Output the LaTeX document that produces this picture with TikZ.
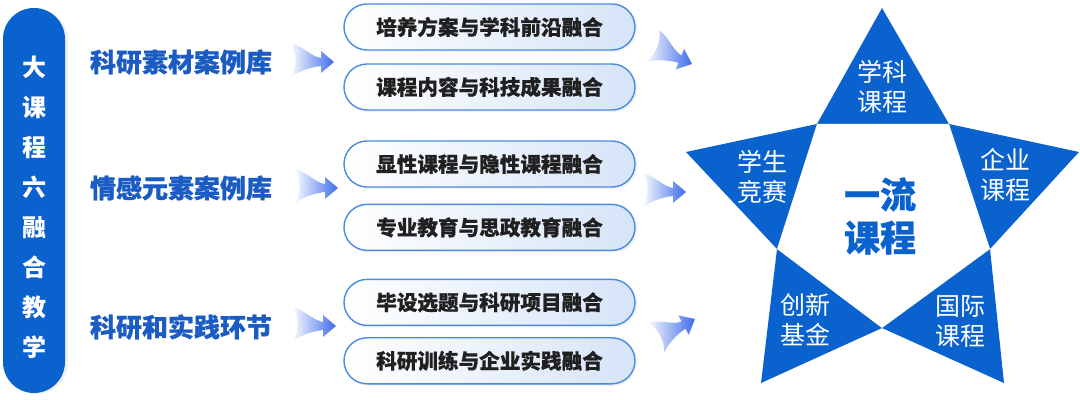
\documentclass[tikz,border=0pt]{standalone}
\usepackage{fontspec}
\setmainfont{Noto Sans CJK SC}
\newfontfamily\heavyfont{Noto Sans CJK SC}[BoldFeatures={FakeBold=0.7}]
\usetikzlibrary{positioning, calc, shadows}
\usepackage{xcolor}
\definecolor{barblue}{HTML}{0A62CF}
\definecolor{libblue}{HTML}{1A5BC4}
\definecolor{pillline}{HTML}{4A8BE0}
\definecolor{pillfill}{HTML}{D6E4F8}
\definecolor{pilltext}{HTML}{202020}
\definecolor{arrowblue}{HTML}{3D6BEA}
\tikzset{
    sidebar/.style = {rectangle, rounded corners=15.5pt, minimum width=31pt, minimum height=192.5pt, fill=barblue, drop shadow={opacity=0.12, shadow xshift=1.5pt, shadow yshift=-0.5pt}},
    bartext/.style = {align=center, text=white, font=\fontsize{12}{20}\selectfont\bfseries},
    libtext/.style = {text=libblue, font=\fontsize{13}{15}\selectfont\heavyfont\bfseries},
    pill/.style = {rectangle, rounded corners=11.5pt, minimum width=145.5pt, minimum height=23pt, draw=pillline, line width=0.7pt, left color=white, right color=pillfill, text=pilltext, font=\fontsize{10.3}{12}\selectfont\heavyfont\bfseries, drop shadow={opacity=0.1, shadow xshift=1pt, shadow yshift=-1pt}},
    starlabel/.style = {align=center, text=white, font=\fontsize{12.5}{15}\selectfont},
    corelabel/.style = {align=center, text=barblue, font=\fontsize{18}{21.5}\selectfont\heavyfont\bfseries},
    fadearrow/.pic = {
        \path[left color=arrowblue!4, right color=arrowblue] (-43,-19) .. controls (-33,-17) and (-22,-5) .. (-13,-4) -- (-13,-11) -- (0,0) -- (-13,11) -- (-13,4) .. controls (-22,5) and (-33,8) .. (-43,15) .. controls (-37,5) and (-37,-9) .. (-43,-19) -- cycle;
    }
}
\begin{document}
\begin{tikzpicture}[x=0.5pt, y=-0.5pt, node distance=6.3pt]
\useasboundingbox (0,0) rectangle (1080,400);
\node (bar) [sidebar] at (34,200.5) {};
\node (bartitle) [bartext] at (34,207.5) {大\\课\\程\\六\\融\\合\\教\\学};

\node (lib1) [libtext] at (181,62) {科研素材案例库};
\node (lib2) [libtext] at (181,188) {情感元素案例库};
\node (lib3) [libtext] at (181,327) {科研和实践环节};

\node (pill1) [pill] at (489.5,27) {培养方案与学科前沿融合};
\node (pill2) [pill, below=of pill1] {课程内容与科技成果融合};
\node (pill3) [pill, below=14.8pt of pill2] {显性课程与隐性课程融合};
\node (pill4) [pill, below=8pt of pill3] {专业教育与思政教育融合};
\node (pill5) [pill, below=13.8pt of pill4] {毕设选题与科研项目融合};
\node (pill6) [pill, below=5.5pt of pill5] {科研训练与企业实践融合};

\pic at (334,62) {fadearrow};
\pic at (338,188) {fadearrow};
\pic at (336,326) {fadearrow};
\pic[rotate=-22] at (692,64) {fadearrow};
\pic at (686,192) {fadearrow};
\pic[rotate=28] at (695,319) {fadearrow};

% five-pointed star
\coordinate (top) at (882,8);
\coordinate (left) at (686,152);
\coordinate (right) at (1079,152);
\coordinate (botl) at (761,383);
\coordinate (botr) at (1004,383);
\coordinate (inA) at (817,124);
\coordinate (inB) at (949,124);
\coordinate (inC) at (990,249);
\coordinate (inD) at (882,328);
\coordinate (inE) at (777,249);
\fill[barblue] (top) -- (inB) -- (right) -- (inC) -- (botr) -- (inD) -- (botl) -- (inE) -- (left) -- (inA) -- cycle;
\fill[white] (inA) -- (inB) -- (inC) -- (inD) -- (inE) -- cycle;

\node (subj) [starlabel] at (882,87) {学科\\课程};
\node (comp) [starlabel] at (762,177) {学生\\竞赛};
\node (firm) [starlabel] at (1005,175) {企业\\课程};
\node (fund) [starlabel] at (805,320) {创新\\基金};
\node (intl) [starlabel] at (960,321) {国际\\课程};
\node (core) [corelabel] at (880,216) {一流\\课程};
\end{tikzpicture}
\end{document}
